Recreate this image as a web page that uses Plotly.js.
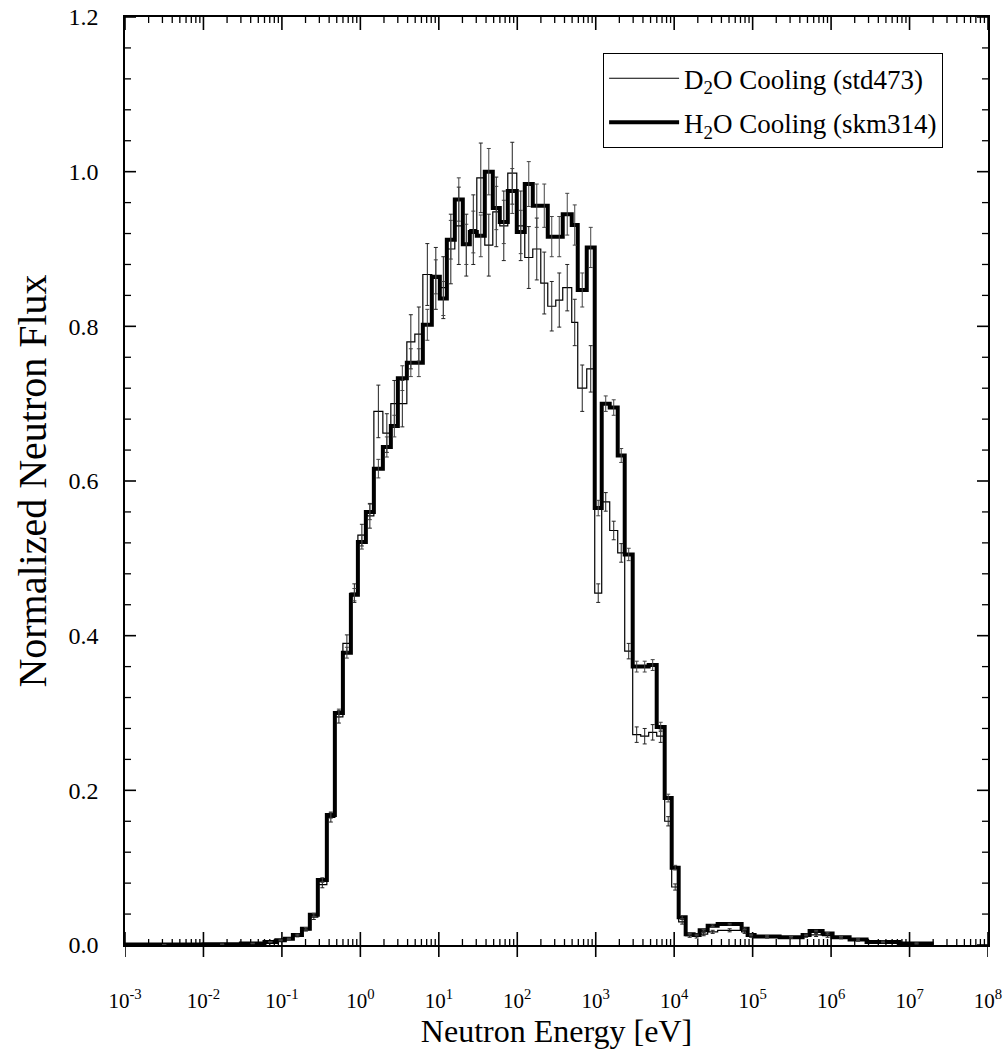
<!DOCTYPE html>
<html>
<head>
<meta charset="utf-8">
<script src="https://cdn.plot.ly/plotly-3.0.1.min.js"></script>
<style>
  html, body { margin: 0; padding: 0; background: #fff; }
  #chart { width: 1006px; height: 1059px; }
</style>
</head>
<body>
<div id="chart"></div>
<script>
// Energy group boundaries [eV]
const groupEdges = [0.001, 0.01, 0.03, 0.06, 0.085, 0.109, 0.138, 0.180, 0.227, 0.287,
  0.374, 0.473, 0.599, 0.757, 0.930, 1.175, 1.486, 1.935, 2.446, 3.004,
  3.912, 4.946, 6.256, 8.143, 10.30, 12.65, 15.99, 20.22, 24.83, 30.49,
  38.55, 48.75, 59.86, 75.69, 98.54, 124.6, 157.6, 199.3, 244.7, 309.4,
  379.8, 494.6, 589.8, 768.1, 971.2, 1192, 1508, 1907, 2341, 2960,
  3743, 4733, 5986, 7568, 9294, 11410, 14010, 17720, 21130, 26720,
  35830, 72400, 86360, 106000, 220800, 433500, 532300, 779300, 1045000, 1721000,
  2833000, 7460000, 20220000];

// Normalized flux per group, H2O cooling (skm314)
const fluxH2O = [0.0005, 0.001, 0.002, 0.004, 0.006, 0.008, 0.013, 0.021, 0.039, 0.084,
  0.168, 0.300, 0.378, 0.453, 0.521, 0.560, 0.616, 0.644, 0.671, 0.733,
  0.753, 0.753, 0.802, 0.864, 0.836, 0.912, 0.964, 0.906, 0.922, 0.917,
  1.000, 0.953, 0.935, 0.975, 0.922, 0.984, 0.956, 0.956, 0.916, 0.916,
  0.945, 0.931, 0.847, 0.902, 0.565, 0.700, 0.695, 0.633, 0.505, 0.360,
  0.360, 0.362, 0.282, 0.190, 0.100, 0.036, 0.014, 0.013, 0.019, 0.025,
  0.027, 0.021, 0.013, 0.011, 0.010, 0.013, 0.018, 0.015, 0.010, 0.007,
  0.004, 0.002];

// Normalized flux per group, D2O cooling (std473)
const fluxD2O = [0.0005, 0.001, 0.002, 0.004, 0.006, 0.008, 0.012, 0.020, 0.036, 0.078,
  0.165, 0.295, 0.390, 0.455, 0.530, 0.555, 0.690, 0.662, 0.700, 0.700,
  0.780, 0.790, 0.867, 0.862, 0.850, 0.900, 0.930, 0.905, 0.925, 0.992,
  0.905, 0.948, 0.930, 0.998, 0.930, 0.889, 0.900, 0.856, 0.826, 0.834,
  0.850, 0.805, 0.720, 0.745, 0.455, 0.573, 0.536, 0.507, 0.380, 0.272,
  0.270, 0.275, 0.270, 0.160, 0.075, 0.030, 0.012, 0.011, 0.014, 0.017,
  0.019, 0.017, 0.012, 0.010, 0.010, 0.011, 0.013, 0.012, 0.009, 0.006,
  0.004, 0.002];

// Statistical uncertainties (1 sigma, absolute)
const errH2O = [0.0002, 0.0002, 0.0003, 0.0004, 0.0005, 0.0007, 0.001, 0.0015, 0.002, 0.003,
  0.004, 0.005, 0.007, 0.008, 0.009, 0.010, 0.012, 0.013, 0.014, 0.016,
  0.018, 0.018, 0.020, 0.022, 0.022, 0.025, 0.028, 0.026, 0.027, 0.027,
  0.030, 0.028, 0.028, 0.029, 0.028, 0.029, 0.028, 0.028, 0.026, 0.026,
  0.027, 0.026, 0.022, 0.026, 0.010, 0.010, 0.010, 0.009, 0.008, 0.007,
  0.007, 0.007, 0.006, 0.005, 0.003, 0.002, 0.001, 0.001, 0.001, 0.001,
  0.001, 0.001, 0.001, 0.001, 0.001, 0.001, 0.001, 0.001, 0.001, 0.001,
  0.001, 0.0005];

const errD2O = [0.0003, 0.0003, 0.0004, 0.0006, 0.0008, 0.001, 0.0015, 0.002, 0.003, 0.004,
  0.006, 0.008, 0.011, 0.012, 0.014, 0.016, 0.034, 0.025, 0.030, 0.030,
  0.035, 0.035, 0.040, 0.040, 0.040, 0.045, 0.050, 0.040, 0.045, 0.045,
  0.040, 0.045, 0.045, 0.040, 0.045, 0.040, 0.040, 0.040, 0.032, 0.035,
  0.030, 0.030, 0.030, 0.030, 0.012, 0.012, 0.012, 0.012, 0.010, 0.010,
  0.010, 0.010, 0.008, 0.006, 0.004, 0.003, 0.002, 0.002, 0.002, 0.002,
  0.002, 0.002, 0.002, 0.001, 0.001, 0.001, 0.002, 0.002, 0.001, 0.001,
  0.001, 0.001];

// Decade ticks on the energy axis
const decadeTicks = [1e-3, 1e-2, 1e-1, 1e0, 1e1, 1e2, 1e3, 1e4, 1e5, 1e6, 1e7, 1e8];
const decadeLabels = ['10<sup>-3</sup>', '10<sup>-2</sup>', '10<sup>-1</sup>', '10<sup>0</sup>',
  '10<sup>1</sup>', '10<sup>2</sup>', '10<sup>3</sup>', '10<sup>4</sup>', '10<sup>5</sup>',
  '10<sup>6</sup>', '10<sup>7</sup>', '10<sup>8</sup>'];

// Flux axis ticks
const fluxTicks = [0, 0.2, 0.4, 0.6, 0.8, 1.0, 1.2];

const serif = 'Liberation Serif, Times New Roman, serif';

// figure geometry
const W = 1006, H = 1059;
const M = { l: 125, r: 18, t: 17, b: 114 };
const plotW = W - M.l - M.r, plotH = H - M.t - M.b;
const logRange = [-3, 8], fluxRange = [0, 1.2];

// sub-decade tick marks (2..9 x 10^n)
const minorEnergyTicks = [];
for (let p = -3; p < 8; p++) {
  for (let m = 2; m <= 9; m++) minorEnergyTicks.push(m * Math.pow(10, p));
}
// flux minor marks every 0.04 between the labelled ticks
const minorFluxTicks = [];
for (let k = 1; k < 30; k++) if (k % 5 !== 0) minorFluxTicks.push(+(k * 0.04).toFixed(2));

// histogram outline: one point per group edge, last value repeated at the top edge
function stepY(vals) { return vals.concat([vals[vals.length - 1]]); }
// geometric centre of each group (log axis)
const centres = groupEdges.slice(0, -1).map((e, i) => Math.sqrt(e * groupEdges[i + 1]));

// inward frame ticks, drawn as line segments in axis units
const fluxPerPx = (fluxRange[1] - fluxRange[0]) / plotH;
const decPerPx = (logRange[1] - logRange[0]) / plotW;
function energyTickSegments(vals, lenPx) {
  const xs = [], ys = [];
  const d = lenPx * fluxPerPx;
  vals.forEach(v => {
    xs.push(v, v, null, v, v, null);
    ys.push(fluxRange[0], fluxRange[0] + d, null, fluxRange[1], fluxRange[1] - d, null);
  });
  return { xs, ys };
}
function fluxTickSegments(vals, lenPx) {
  const xs = [], ys = [];
  const d = lenPx * decPerPx;
  const xl0 = Math.pow(10, logRange[0]), xl1 = Math.pow(10, logRange[0] + d);
  const xr0 = Math.pow(10, logRange[1]), xr1 = Math.pow(10, logRange[1] - d);
  vals.forEach(v => {
    xs.push(xl0, xl1, null, xr0, xr1, null);
    ys.push(v, v, null, v, v, null);
  });
  return { xs, ys };
}
function tickTrace(seg, w) {
  return { x: seg.xs, y: seg.ys, type: 'scatter', mode: 'lines', connectgaps: false,
    line: { color: '#000', width: w }, showlegend: false, hoverinfo: 'skip' };
}

// downward half of the decade ticks below the bottom frame line
const outerTicks = decadeTicks.map(v => ({
  type: 'line', xref: 'x', yref: 'paper', ysizemode: 'pixel', yanchor: 0,
  x0: v, x1: v, y0: -12, y1: 0, line: { color: '#000', width: 1.6 }, layer: 'above'
}));

const traces = [
  tickTrace(energyTickSegments(decadeTicks, 13), 1.6),
  tickTrace(energyTickSegments(minorEnergyTicks, 6), 1.3),
  tickTrace(fluxTickSegments(fluxTicks, 11), 1.6),
  tickTrace(fluxTickSegments(minorFluxTicks, 6), 1.3),
  {
    x: groupEdges, y: stepY(fluxD2O), type: 'scatter', mode: 'lines',
    line: { shape: 'hv', color: '#000', width: 1.2 },
    name: 'D<sub>2</sub>O Cooling (std473)', legendgroup: 'd2o', hoverinfo: 'skip'
  },
  {
    x: groupEdges, y: stepY(fluxH2O), type: 'scatter', mode: 'lines',
    line: { shape: 'hv', color: '#000', width: 4 },
    name: 'H<sub>2</sub>O Cooling (skm314)', legendgroup: 'h2o', hoverinfo: 'skip'
  },
  {
    x: centres, y: fluxD2O, type: 'scatter', mode: 'markers',
    marker: { size: 1, color: 'rgba(0,0,0,0)' }, showlegend: false, hoverinfo: 'skip',
    error_y: { type: 'data', array: errD2O, visible: true, color: '#222', thickness: 1, width: 2 }
  },
  {
    x: centres, y: fluxH2O, type: 'scatter', mode: 'markers',
    marker: { size: 1, color: 'rgba(0,0,0,0)' }, showlegend: false, hoverinfo: 'skip',
    error_y: { type: 'data', array: errH2O, visible: true, color: '#444', thickness: 1, width: 2 }
  }
];

const layout = {
  width: W, height: H,
  margin: M,
  paper_bgcolor: '#fff', plot_bgcolor: '#fff',
  font: { family: serif, color: '#000' },
  showlegend: true,
  hovermode: false,
  legend: {
    x: 0.554, y: 0.961, xanchor: 'left', yanchor: 'top',
    bgcolor: '#fff', bordercolor: '#000', borderwidth: 1,
    font: { family: serif, size: 27, color: '#000' },
    itemwidth: 70, tracegroupgap: 6
  },
  shapes: outerTicks,
  xaxis: {
    type: 'log', range: logRange,
    tickmode: 'array', tickvals: decadeTicks, ticktext: decadeLabels, ticks: '',
    showline: true, linecolor: '#000', linewidth: 1.5, mirror: true,
    showgrid: false, zeroline: false,
    tickfont: { family: serif, size: 21, color: '#000' },
    ticklabelstandoff: 36,
    title: { text: 'Neutron Energy [eV]', font: { family: serif, size: 32, color: '#000' }, standoff: 7 }
  },
  yaxis: {
    range: fluxRange, tickmode: 'array', tickvals: fluxTicks, tickformat: '.1f', ticks: '',
    showline: true, linecolor: '#000', linewidth: 1.5, mirror: true,
    showgrid: false, zeroline: false,
    tickfont: { family: serif, size: 24, color: '#000' },
    ticklabelstandoff: 20,
    title: { text: 'Normalized Neutron Flux', font: { family: serif, size: 40, color: '#000' }, standoff: 9 }
  }
};

Plotly.newPlot('chart', traces, layout, { displayModeBar: false });
</script>
</body>
</html>
